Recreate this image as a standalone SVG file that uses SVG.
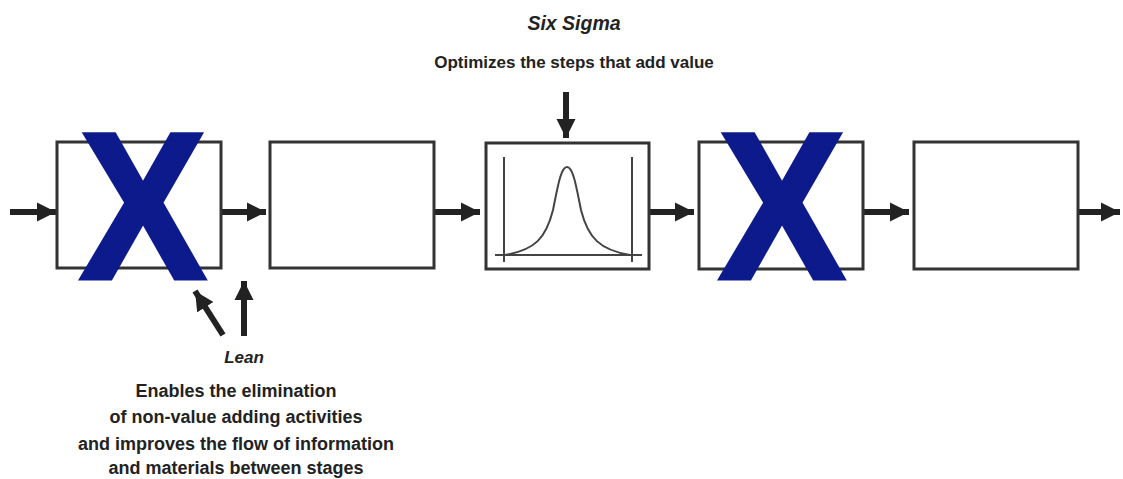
<svg xmlns="http://www.w3.org/2000/svg" width="1123" height="479" viewBox="0 0 1123 479">
<defs>
<style>
.box{fill:#fff;stroke:#333;stroke-width:3}
.conn{stroke:#222;stroke-width:6;fill:none}
.t{font-family:"Liberation Sans",Arial,sans-serif;font-weight:bold;fill:#222;text-anchor:middle}
.x{font-family:"Liberation Sans",Arial,sans-serif;font-weight:bold;fill:#0c1a8c;stroke:#0c1a8c;stroke-width:5;stroke-linejoin:miter;text-anchor:middle;font-size:208px}
.curve{fill:none;stroke:#444;stroke-width:2}
</style>
<marker id="ah" viewBox="0 0 10 10" refX="10" refY="5" markerWidth="3.2" markerHeight="3.2" markerUnits="strokeWidth" orient="auto">
<path d="M0,0 L10,5 L0,10 z" fill="#222"/>
</marker>
</defs>
<rect width="1123" height="479" fill="#fff"/>
<g id="connectors">
<line class="conn" x1="10" y1="212" x2="56" y2="212" marker-end="url(#ah)"/>
<line class="conn" x1="222" y1="212" x2="266" y2="212" marker-end="url(#ah)"/>
<line class="conn" x1="435" y1="212" x2="480" y2="212" marker-end="url(#ah)"/>
<line class="conn" x1="650" y1="212" x2="694" y2="212" marker-end="url(#ah)"/>
<line class="conn" x1="864" y1="212" x2="909" y2="212" marker-end="url(#ah)"/>
<line class="conn" x1="1079" y1="212" x2="1120" y2="212" marker-end="url(#ah)"/>
<line class="conn" x1="566" y1="92" x2="566" y2="138" marker-end="url(#ah)"/>
<line class="conn" x1="223" y1="335" x2="195" y2="291" marker-end="url(#ah)"/>
<line class="conn" x1="244" y1="336" x2="244" y2="281" marker-end="url(#ah)"/>
</g>
<g id="node1">
<rect class="box" x="57" y="142" width="164" height="126"/>
<text class="x" x="143" y="278" transform="translate(143 0) scale(0.9 1) translate(-143 0)">X</text>
</g>
<g id="node2">
<rect class="box" x="270" y="142" width="164" height="126"/>
</g>
<g id="node3">
<rect class="box" x="486" y="143" width="163" height="126"/>
<line class="curve" x1="504" y1="157" x2="504" y2="262"/>
<line class="curve" x1="632" y1="157" x2="632" y2="262"/>
<line class="curve" x1="495" y1="255" x2="642" y2="255"/>
<path class="curve" d="M505,255 C535,250 546,238 553,210 C558,185 561,167 567,167 C573,167 576,185 581,210 C588,238 600,250 630,255"/>
</g>
<g id="node4">
<rect class="box" x="699" y="142" width="164" height="127"/>
<text class="x" x="782" y="278" transform="translate(782 0) scale(0.9 1) translate(-782 0)">X</text>
</g>
<g id="node5">
<rect class="box" x="914" y="142" width="164" height="127"/>
</g>
<g id="labels">
<text class="t" x="574" y="30" font-size="19.5" font-style="italic">Six Sigma</text>
<text class="t" x="574" y="68" font-size="17">Optimizes the steps that add value</text>
<text class="t" x="244" y="363" font-size="17" font-style="italic" fill="#333">Lean</text>
<text class="t" x="236" y="397" font-size="18">Enables the elimination</text>
<text class="t" x="236" y="423" font-size="18">of non-value adding activities</text>
<text class="t" x="236" y="450" font-size="18">and improves the flow of information</text>
<text class="t" x="236" y="474" font-size="18">and materials between stages</text>
</g>
</svg>
